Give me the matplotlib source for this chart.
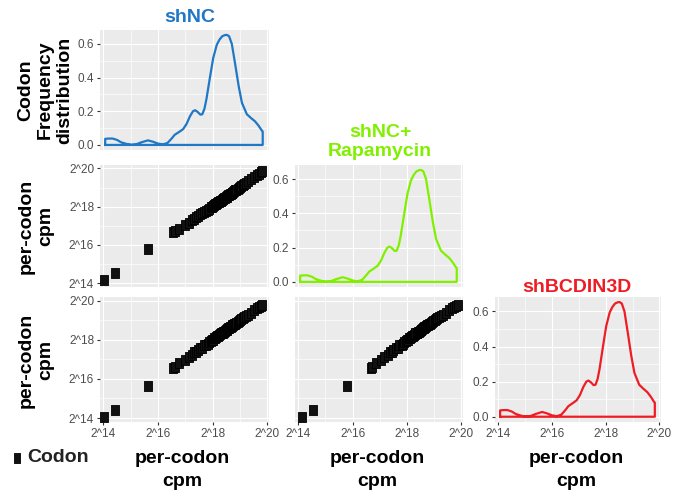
import matplotlib
matplotlib.use("Agg")
import matplotlib.pyplot as plt
from matplotlib.lines import Line2D
import numpy as np

plt.rcParams['font.family'] = ['Liberation Sans', 'DejaVu Sans']

# per-codon cpm, log2 scale, one value per codon
samples = ['shNC', 'shNC+\nRapamycin', 'shBCDIN3D']
sample_colors = ['#1F77C6', '#80F000', '#EE1D25']

shnc = [14.01, 14.43, 15.63, 16.55, 16.62, 16.78, 16.98, 17.12, 17.25, 17.33,
        17.40, 17.48, 17.55, 17.62, 17.70, 17.76, 17.82, 17.88, 17.93, 17.97,
        18.02, 18.06, 18.10, 18.13, 18.17, 18.20, 18.24, 18.27, 18.30, 18.33,
        18.36, 18.39, 18.42, 18.45, 18.48, 18.51, 18.54, 18.57, 18.60, 18.63,
        18.66, 18.69, 18.72, 18.75, 18.79, 18.83, 18.87, 18.91, 18.95, 19.00,
        19.05, 19.10, 19.16, 19.22, 19.30, 19.40, 19.52, 19.62, 19.70, 19.76, 19.80]
shnc_rapa = [14.15, 14.55, 15.78, 16.68, 16.72, 16.85, 17.05, 17.15, 17.30, 17.36,
             17.45, 17.50, 17.60, 17.66, 17.72, 17.80, 17.84, 17.90, 17.96, 18.00,
             18.04, 18.09, 18.12, 18.16, 18.19, 18.23, 18.26, 18.29, 18.31, 18.35,
             18.38, 18.40, 18.44, 18.47, 18.50, 18.52, 18.56, 18.59, 18.62, 18.64,
             18.68, 18.71, 18.74, 18.77, 18.80, 18.85, 18.88, 18.93, 18.97, 19.02,
             19.07, 19.12, 19.18, 19.25, 19.33, 19.43, 19.55, 19.64, 19.72, 19.80, 19.88]
shbcdin3d = [14.03, 14.43, 15.64, 16.55, 16.60, 16.80, 16.96, 17.10, 17.22, 17.35,
             17.38, 17.46, 17.57, 17.60, 17.72, 17.74, 17.80, 17.86, 17.95, 17.98,
             18.00, 18.07, 18.11, 18.12, 18.18, 18.21, 18.22, 18.28, 18.32, 18.34,
             18.35, 18.40, 18.41, 18.46, 18.49, 18.50, 18.55, 18.58, 18.59, 18.64,
             18.67, 18.68, 18.73, 18.76, 18.78, 18.82, 18.86, 18.90, 18.94, 18.99,
             19.04, 19.11, 19.15, 19.21, 19.28, 19.38, 19.50, 19.60, 19.68, 19.74, 19.78]
values = [shnc, shnc_rapa, shbcdin3d]

# codon frequency distribution (same shape for all three samples)
dens_x = [14.07, 14.20, 14.34, 14.50, 14.65, 14.85, 15.02, 15.20, 15.40, 15.63,
          15.80, 16.00, 16.18, 16.35, 16.50, 16.61, 16.80, 16.92, 17.04, 17.17,
          17.28, 17.36, 17.45, 17.55, 17.62, 17.70, 17.77, 17.90, 18.02, 18.15,
          18.25, 18.35, 18.45, 18.52, 18.60, 18.70, 18.82, 18.95, 19.07, 19.25,
          19.40, 19.55, 19.68, 19.80, 19.83]
dens_y = [0.036, 0.038, 0.038, 0.030, 0.016, 0.006, 0.001, 0.004, 0.016, 0.027,
          0.020, 0.008, 0.003, 0.012, 0.038, 0.060, 0.080, 0.094, 0.123, 0.170,
          0.200, 0.206, 0.196, 0.180, 0.182, 0.215, 0.270, 0.400, 0.516, 0.594,
          0.625, 0.645, 0.652, 0.653, 0.645, 0.600, 0.482, 0.350, 0.250, 0.182,
          0.160, 0.140, 0.114, 0.085, 0.080]

log_ticks = [14, 16, 18, 20]
log_minor = [15, 17, 19]
log_labels = ['2^14', '2^16', '2^18', '2^20']
dens_ticks = [0.0, 0.2, 0.4, 0.6]
dens_minor = [0.1, 0.3, 0.5]

W, H = 675, 498
fig = plt.figure(figsize=(W / 100, H / 100), dpi=100)

col_px = [(100, 269), (295, 463), (495, 661)]
row_px = [(30, 150), (165, 287), (297, 422)]


def panel(r, c):
    x0, x1 = col_px[c]
    y0, y1 = row_px[r]
    ax = fig.add_axes([x0 / W, 1 - y1 / H, (x1 - x0) / W, (y1 - y0) / H])
    ax.set_facecolor('#EBEBEB')
    for s in ax.spines.values():
        s.set_visible(False)
    ax.set_axisbelow(True)
    ax.grid(which='major', color='white', linewidth=0.85)
    ax.grid(which='minor', color='white', linewidth=0.45)
    ax.tick_params(which='major', length=2.2, width=0.8, color='#333333',
                   labelsize=8.5, labelcolor='#4D4D4D', pad=2)
    ax.tick_params(which='minor', length=0)
    ax.set_xlim(13.88, 20.06)
    ax.set_xticks(log_ticks)
    ax.set_xticks(log_minor, minor=True)
    ax.set_xticklabels(log_labels)
    return ax


square = [(-0.7, -1), (0.7, -1), (0.7, 1), (-0.7, 1), (-0.7, -1)]

for r in range(3):
    for c in range(r + 1):
        ax = panel(r, c)
        if r == c:
            xs = [dens_x[0]] + dens_x + [dens_x[-1], dens_x[0]]
            ys = [0] + dens_y + [0, 0]
            ax.plot(xs, ys, color=sample_colors[r], linewidth=1.6,
                    solid_joinstyle='round')
            ax.set_ylim(-0.03, 0.682)
            ax.set_yticks(dens_ticks)
            ax.set_yticks(dens_minor, minor=True)
            ax.set_yticklabels(['0.0', '0.2', '0.4', '0.6'])
        else:
            ax.scatter(values[c], values[r], marker=square, s=55,
                       facecolor='#111111', edgecolor='black', linewidth=0.6)
            ax.set_ylim(13.8, 20.18)
            ax.set_yticks(log_ticks)
            ax.set_yticks(log_minor, minor=True)
            if c == 0:
                ax.set_yticklabels(log_labels)
            else:
                ax.tick_params(axis='y', which='major', length=0, labelleft=False)
        if r < 2:
            ax.tick_params(axis='x', which='major', length=0, labelbottom=False)


def ftext(x, y, s, **kw):
    fig.text(x / W, 1 - y / H, s, ha='center', va='center', **kw)


# sample names above the diagonal panels
ftext(190, 18, samples[0], color=sample_colors[0], fontsize=14, fontweight='bold')
ftext(380, 142, samples[1], color=sample_colors[1], fontsize=14,
      fontweight='bold', linespacing=1.2)
ftext(577, 288, samples[2], color=sample_colors[2], fontsize=14, fontweight='bold')

# row labels
ftext(45, 90, 'Codon\nFrequency\ndistribution', rotation=90, fontsize=14,
      fontweight='bold', linespacing=1.2)
ftext(36, 226, 'per-codon\ncpm', rotation=90, fontsize=14,
      fontweight='bold', linespacing=1.25)
ftext(36, 360, 'per-codon\ncpm', rotation=90, fontsize=14,
      fontweight='bold', linespacing=1.25)

# column labels
for c in range(3):
    x0, x1 = col_px[c]
    ftext((x0 + x1) / 2 - 2, 470, 'per-codon\ncpm', fontsize=14,
          fontweight='bold', linespacing=1.4)

# legend key
fig.add_artist(Line2D([17 / W], [1 - 458 / H], marker=square, markersize=7,
                      color='#111111', markeredgecolor='black',
                      markeredgewidth=0.6, linestyle='none',
                      transform=fig.transFigure))
fig.text(27 / W, 1 - 457 / H, 'Codon', ha='left', va='center',
         fontsize=14, fontweight='bold', color='#222222')

fig.savefig('out.png', dpi=100)
